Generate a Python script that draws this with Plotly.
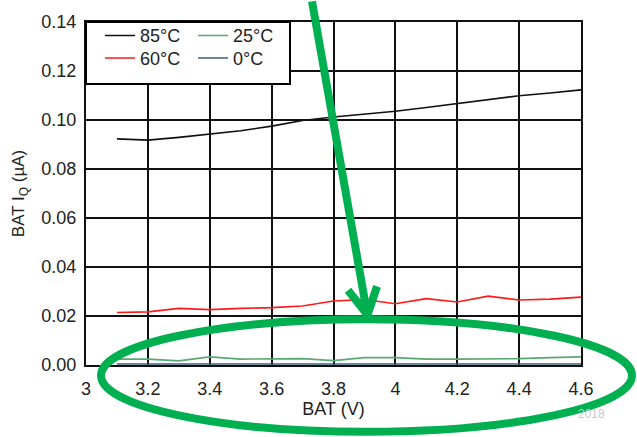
import plotly.graph_objects as go

# ---- data ----
bat_v = [3.1, 3.2, 3.3, 3.4, 3.5, 3.6, 3.7, 3.8, 3.9, 4.0, 4.1, 4.2, 4.3, 4.4, 4.5, 4.6]
iq_85c = [0.0923, 0.0918, 0.0929, 0.0943, 0.0956, 0.0975, 0.0998, 0.1012, 0.1023, 0.1036,
          0.1051, 0.1067, 0.1083, 0.1099, 0.1110, 0.1123]
iq_60c = [0.0214, 0.0217, 0.0231, 0.0226, 0.0231, 0.0234, 0.0241, 0.0261, 0.0267, 0.0250,
          0.0271, 0.0257, 0.0281, 0.0265, 0.0269, 0.0277]
iq_25c = [0.0024, 0.0024, 0.0017, 0.0033, 0.0024, 0.0024, 0.0026, 0.0018, 0.0030, 0.0030,
          0.0024, 0.0024, 0.0024, 0.0026, 0.0030, 0.0033]
iq_0c = [0.0004, 0.0004, 0.0005, 0.0004, 0.0005, 0.0004, 0.0004, 0.0005, 0.0004, 0.0004,
         0.0005, 0.0004, 0.0004, 0.0005, 0.0004, 0.0004]
y_ticks = [0.00, 0.02, 0.04, 0.06, 0.08, 0.10, 0.12, 0.14]
x_ticks = [3, 3.2, 3.4, 3.6, 3.8, 4, 4.2, 4.4, 4.6]

W, H = 637, 437
L, R, T, B = 86, 56, 16, 72
PW, PH = W - L - R, H - T - B


def px(x):
    return (x - L) / PW


def py(y):
    return (H - B - y) / PH


FONT = "Liberation Sans, Arial, sans-serif"
GREEN = "#00b050"

series = [
    ("85°C", iq_85c, "#111111", "legend", 100, 30),
    ("60°C", iq_60c, "#ff1a1a", "legend2", 100, 53),
    ("25°C", iq_25c, "#5aa878", "legend3", 193, 30),
    ("0°C", iq_0c, "#3d5f73", "legend4", 193, 53),
]

fig = go.Figure()
legends = {}
for name, vals, color, leg, lx, ly in series:
    fig.add_trace(go.Scatter(x=bat_v, y=vals, mode="lines", name=name,
                             line=dict(color=color, width=1.6), legend=leg))
    legends[leg] = dict(x=px(lx), y=py(ly), xanchor="left", yanchor="middle",
                        bgcolor="rgba(0,0,0,0)", borderwidth=0,
                        font=dict(size=18, color="#222222"), itemwidth=30)

shapes = []
# legend box
shapes.append(dict(type="rect", xref="paper", yref="paper",
                   x0=px(86), x1=px(290), y0=py(79), y1=py(16),
                   line=dict(color="black", width=2), fillcolor="white", layer="above"))
# green ellipse
shapes.append(dict(type="circle", xref="paper", yref="paper",
                   x0=px(101), x1=px(632), y0=py(433), y1=py(318.5),
                   line=dict(color=GREEN, width=8), layer="above"))
# arrow shaft
shapes.append(dict(type="line", xref="paper", yref="paper",
                   x0=px(312), y0=py(-5), x1=px(367), y1=py(312),
                   line=dict(color=GREEN, width=8), layer="above"))
# arrow head
shapes.append(dict(type="path", xref="paper", yref="paper",
                   path=f"M{px(348)},{py(289)} L{px(367.5)},{py(314)} L{px(377)},{py(285)}",
                   line=dict(color=GREEN, width=8), layer="above"))

fig.update_layout(
    width=W, height=H,
    margin=dict(l=L, r=R, t=T, b=B),
    paper_bgcolor="white", plot_bgcolor="white",
    font=dict(family=FONT, size=18, color="#222222"),
    showlegend=True,
    shapes=shapes,
    annotations=[dict(text="2018", xref="paper", yref="paper", x=px(607), y=py(415),
                      xanchor="right", yanchor="middle", showarrow=False,
                      font=dict(size=12, color="#c4c8d4"))],
    **legends,
)

fig.update_xaxes(range=[3, 4.6], tickvals=x_ticks, ticktext=[f"{v:g}" for v in x_ticks],
                 showgrid=True, gridcolor="#111111", gridwidth=1.6,
                 showline=True, linecolor="#111111", linewidth=2, mirror=True,
                 ticks="", zeroline=False, ticklabelstandoff=6,
                 title=dict(text="BAT (V)", standoff=4, font=dict(size=18)))
fig.update_yaxes(range=[0, 0.14], tickvals=y_ticks, ticktext=[f"{v:.2f}" for v in y_ticks],
                 showgrid=True, gridcolor="#111111", gridwidth=1.6,
                 showline=True, linecolor="#111111", linewidth=2, mirror=True,
                 ticks="", zeroline=False, ticklabelstandoff=4,
                 title=dict(text="BAT I<sub>Q</sub> (µA)", standoff=12, font=dict(size=17)))

fig.write_html("out.html")
